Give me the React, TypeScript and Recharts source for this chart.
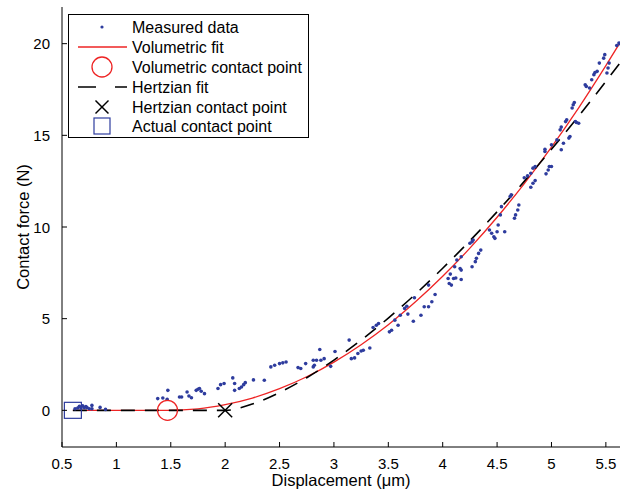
import React from 'react';
import { ComposedChart, Line, Scatter, XAxis, YAxis, Legend } from 'recharts';

// Measured data (displacement µm, contact force N)
const measuredX = [
  0.62, 0.645, 0.66, 0.675, 0.69, 0.705, 0.72, 0.73, 0.75, 0.775, 0.775, 0.85, 0.9,
  1.38, 1.427, 1.473, 1.467, 1.58, 1.6, 1.65, 1.667, 1.69, 1.734, 1.75, 1.764, 1.78, 1.81,
  1.934, 1.958, 1.99, 2.07, 2.087, 2.087, 2.13, 2.15, 2.17, 2.185, 2.26,
  2.36, 2.42, 2.455, 2.5, 2.53, 2.56, 2.67, 2.695, 2.74, 2.81, 2.82, 2.81, 2.84, 2.88, 2.87, 2.91, 2.97,
  3.01, 3.14, 3.16, 3.19, 3.22, 3.25, 3.27, 3.33, 3.36, 3.39, 3.41, 3.51, 3.53, 3.56, 3.59, 3.61,
  3.65, 3.67, 3.68, 3.73, 3.74, 3.8,
  3.83, 3.87, 3.9, 3.87, 3.93, 4.05, 4.07, 4.06, 4.08, 4.1, 4.12, 4.16, 4.17, 4.17, 4.11, 4.13, 4.17,
  4.25, 4.27, 4.28, 4.27, 4.3, 4.31, 4.33, 4.35, 4.43, 4.45, 4.47, 4.48, 4.5, 4.51, 4.53, 4.54, 4.57,
  4.62, 4.63, 4.66, 4.67, 4.69, 4.7,
  4.75, 4.78, 4.81, 4.83, 4.85, 4.81, 4.83, 4.85, 4.95, 4.97, 4.98, 5.0, 4.94, 4.94, 5.0, 5.05, 5.08,
  5.09, 5.13, 5.14, 5.09, 5.11, 5.16, 5.17, 5.19, 5.2, 5.21, 5.22, 5.23, 5.25, 5.31, 5.32, 5.35, 5.37,
  5.39, 5.4, 5.42, 5.44, 5.48, 5.49, 5.51, 5.52, 5.53, 5.6, 5.62, 5.63,
];
const measuredF = [
  0.09, 0.13, 0.22, 0.13, 0.25, 0.15, 0.2, 0.15, 0.09, 0.27, 0.09, 0.16, 0.05,
  0.64, 0.67, 1.09, 0.6, 0.73, 0.73, 1.0, 0.78, 0.69, 1.09, 1.15, 1.19, 1.04, 0.91,
  1.19, 1.4, 1.46, 1.77, 1.46, 1.09, 1.19, 1.27, 1.4, 1.51, 1.66,
  1.64, 2.37, 2.46, 2.55, 2.59, 2.64, 2.33, 2.28, 2.55, 2.73, 2.46, 2.37, 2.73, 2.73, 3.32, 2.82, 2.4,
  3.21, 3.83, 2.82, 2.86, 3.1, 3.24, 3.28, 3.4, 4.52, 4.64, 4.74, 4.28, 4.37, 4.92, 4.64, 5.19,
  5.56, 5.68, 5.25, 4.86, 6.14, 5.19,
  5.65, 5.65, 5.92, 6.83, 6.32, 7.19, 7.43, 6.92, 6.83, 7.19, 7.22, 7.74, 7.65, 7.14, 7.83, 8.2, 8.38,
  9.11, 9.2, 9.29, 7.83, 8.11, 8.29, 8.56, 8.74, 9.84, 9.66, 9.47, 9.38, 9.74, 10.11, 10.66, 11.11, 9.74,
  11.66, 11.75, 10.48, 10.66, 10.93, 11.2,
  12.69, 12.79, 12.93, 13.21, 13.3, 12.17, 12.39, 12.53, 12.9, 13.11, 13.3, 13.3, 14.12, 14.24, 14.48, 14.75, 15.3,
  15.45, 15.75, 15.85, 14.21, 14.57, 14.85, 14.94, 16.49, 16.67, 16.79, 15.75, 15.7, 15.66, 17.76, 17.67, 17.58, 18.03,
  18.31, 18.43, 18.49, 18.94, 19.21, 19.4, 18.4, 18.67, 18.94, 19.9, 20.04, 20.0,
];

// Volumetric fit (red)
const volX = [0.6, 1.0, 1.47, 1.75, 2.0, 2.25, 2.5, 2.75, 3.0, 3.25, 3.5, 3.75, 4.0, 4.25, 4.5, 4.75, 5.0, 5.25, 5.5, 5.63];
const volF = [0, 0, 0, 0.08, 0.31, 0.67, 1.18, 1.83, 2.63, 3.58, 4.67, 5.92, 7.31, 8.85, 10.53, 12.37, 14.36, 16.5, 18.8, 20.05];

// Hertzian fit (black dashed)
const hertzX = [0.6, 1.0, 1.5, 2.0, 2.25, 2.5, 2.75, 3.0, 3.25, 3.5, 3.75, 4.0, 4.25, 4.5, 4.75, 5.0, 5.25, 5.5, 5.63];
const hertzF = [0, 0, 0, 0, 0.34, 0.97, 1.78, 2.74, 3.83, 5.03, 6.34, 7.75, 9.25, 10.83, 12.49, 14.24, 16.05, 17.94, 18.95];

// Contact points
const volContactPoint = [{ x: 1.47, y: 0 }];
const hertzContactPoint = [{ x: 2.0, y: 0 }];
const actualContactPoint = [{ x: 0.6, y: 0 }];

const xTicks = [0.5, 1, 1.5, 2, 2.5, 3, 3.5, 4, 4.5, 5, 5.5];
const yTicks = [0, 5, 10, 15, 20];
const xDomain = [0.5, 5.63];
const yDomain = [-2, 22];

const legendLabels = [
  'Measured data',
  'Volumetric fit',
  'Volumetric contact point',
  'Hertzian fit',
  'Hertzian contact point',
  'Actual contact point',
];

const measured = measuredX.map((x, i) => ({ x, y: measuredF[i] }));
const volFit = volX.map((x, i) => ({ x, y: volF[i] }));
const hertzFit = hertzX.map((x, i) => ({ x, y: hertzF[i] }));

const FONT = '"Liberation Sans", Arial, Helvetica, sans-serif';
const BLUE = '#2E3C9E';
const RED = '#EE2424';

const BottomTick = (p: any) => (
  <g>
    <line x1={p.x} x2={p.x} y1={p.y} y2={p.y - 5} stroke="#000" strokeWidth={1} />
    <text x={p.x} y={p.y + 16} textAnchor="middle" dominantBaseline="central" fontSize={15} fontFamily={FONT} fill="#000">
      {p.payload.value}
    </text>
  </g>
);
const TopTick = (p: any) => (
  <line x1={p.x} x2={p.x} y1={p.y} y2={p.y + 5} stroke="#000" strokeWidth={1} />
);
const LeftTick = (p: any) => (
  <g>
    <line x1={p.x} x2={p.x + 5} y1={p.y} y2={p.y} stroke="#000" strokeWidth={1} />
    <text x={p.x - 12} y={p.y} textAnchor="end" dominantBaseline="central" fontSize={15} fontFamily={FONT} fill="#000">
      {p.payload.value}
    </text>
  </g>
);
const RightTick = (p: any) => (
  <line x1={p.x} x2={p.x - 5} y1={p.y} y2={p.y} stroke="#000" strokeWidth={1} />
);

const DotShape = (p: any) => <circle cx={p.cx} cy={p.cy} r={1.8} fill={BLUE} />;
const CircleShape = (p: any) => <circle cx={p.cx} cy={p.cy} r={10} fill="none" stroke={RED} strokeWidth={1.3} />;
const CrossShape = (p: any) => (
  <g stroke="#000" strokeWidth={1.5}>
    <line x1={p.cx - 7} y1={p.cy - 7} x2={p.cx + 7} y2={p.cy + 7} />
    <line x1={p.cx - 7} y1={p.cy + 7} x2={p.cx + 7} y2={p.cy - 7} />
  </g>
);
const SquareShape = (p: any) => (
  <rect x={p.cx - 8.5} y={p.cy - 8} width={17} height={16} fill="none" stroke={BLUE} strokeWidth={1.2} />
);

const LegendBox = () => {
  const rowY = [13, 33, 53, 73, 93, 112];
  const sx = 34;
  return (
    <svg width={241} height={124} style={{ display: 'block' }}>
      <rect x={0.5} y={0.5} width={240} height={123} fill="#fff" stroke="#000" strokeWidth={1} />
      <circle cx={sx} cy={rowY[0]} r={1.6} fill={BLUE} />
      <line x1={10} x2={59} y1={rowY[1]} y2={rowY[1]} stroke={RED} strokeWidth={1.3} />
      <circle cx={sx} cy={rowY[2]} r={10} fill="none" stroke={RED} strokeWidth={1.3} />
      <line x1={10} x2={59} y1={rowY[3]} y2={rowY[3]} stroke="#000" strokeWidth={1.6} strokeDasharray="18 19" />
      <g stroke="#000" strokeWidth={1.5}>
        <line x1={sx - 6.5} y1={rowY[4] - 6.5} x2={sx + 6.5} y2={rowY[4] + 6.5} />
        <line x1={sx - 6.5} y1={rowY[4] + 6.5} x2={sx + 6.5} y2={rowY[4] - 6.5} />
      </g>
      <rect x={sx - 8} y={rowY[5] - 8} width={16} height={16} fill="none" stroke={BLUE} strokeWidth={1.2} />
      {legendLabels.map((t, i) => (
        <text key={t} x={64} y={rowY[i]} dominantBaseline="central" fontSize={16} fontFamily={FONT} fill="#000">
          {t}
        </text>
      ))}
    </svg>
  );
};

export default function App() {
  return (
    <div style={{ position: 'absolute', left: 0, top: 0, background: '#fff' }}>
      <ComposedChart width={628} height={489} margin={{ top: 7, right: 8, bottom: 0, left: 0 }}>
        <XAxis
          xAxisId="b"
          dataKey="x"
          type="number"
          domain={xDomain}
          allowDataOverflow
          ticks={xTicks}
          interval={0}
          height={42}
          tickSize={0}
          tickMargin={0}
          tickLine={false}
          tick={BottomTick}
          axisLine={{ stroke: '#000', strokeWidth: 1 }}
          label={{
            content: (props: any) => {
              const vb = props.viewBox;
              return (
                <text x={vb.x + vb.width / 2} y={vb.y + 33} textAnchor="middle" dominantBaseline="central" fontSize={16.5} fontFamily={FONT} fill="#000">
                  Displacement (μm)
                </text>
              );
            },
          }}
        />
        <XAxis
          xAxisId="t"
          orientation="top"
          dataKey="x"
          type="number"
          domain={xDomain}
          allowDataOverflow
          ticks={xTicks}
          interval={0}
          height={0}
          tickSize={0}
          tickMargin={0}
          tickLine={false}
          tick={TopTick}
          axisLine={{ stroke: '#000', strokeWidth: 1 }}
        />
        <YAxis
          yAxisId="l"
          dataKey="y"
          type="number"
          domain={yDomain}
          allowDataOverflow
          ticks={yTicks}
          interval={0}
          width={62}
          tickSize={0}
          tickMargin={0}
          tickLine={false}
          tick={LeftTick}
          axisLine={{ stroke: '#000', strokeWidth: 1 }}
          label={{
            content: (props: any) => {
              const vb = props.viewBox;
              const cx = 23;
              const cy = vb.y + vb.height / 2;
              return (
                <text x={cx} y={cy} transform={`rotate(-90 ${cx} ${cy})`} textAnchor="middle" dominantBaseline="central" fontSize={16.5} fontFamily={FONT} fill="#000">
                  Contact force (N)
                </text>
              );
            },
          }}
        />
        <YAxis
          yAxisId="r"
          orientation="right"
          dataKey="y"
          type="number"
          domain={yDomain}
          allowDataOverflow
          ticks={yTicks}
          interval={0}
          width={0}
          tickSize={0}
          tickMargin={0}
          tickLine={false}
          tick={RightTick}
          axisLine={{ stroke: '#000', strokeWidth: 1 }}
        />
        <Legend
          layout="vertical"
          verticalAlign="middle"
          align="center"
          width={241}
          height={124}
          wrapperStyle={{ left: 68, top: 14, width: 241, height: 124 }}
          content={() => <LegendBox />}
        />
        <Scatter
          xAxisId="b"
          yAxisId="l"
          data={measured}
          dataKey="y"
          shape={DotShape}
          isAnimationActive={false}
        />
        <Line
          xAxisId="b"
          yAxisId="l"
          data={volFit}
          dataKey="y"
          type="monotone"
          stroke={RED}
          strokeWidth={1.3}
          dot={false}
          activeDot={false}
          isAnimationActive={false}
        />
        <Line
          xAxisId="b"
          yAxisId="l"
          data={hertzFit}
          dataKey="y"
          type="monotone"
          stroke="#000"
          strokeWidth={1.6}
          strokeDasharray="14 10"
          dot={false}
          activeDot={false}
          isAnimationActive={false}
        />
        <Scatter xAxisId="b" yAxisId="l" data={volContactPoint} dataKey="y" shape={CircleShape} isAnimationActive={false} />
        <Scatter xAxisId="b" yAxisId="l" data={hertzContactPoint} dataKey="y" shape={CrossShape} isAnimationActive={false} />
        <Scatter xAxisId="b" yAxisId="l" data={actualContactPoint} dataKey="y" shape={SquareShape} isAnimationActive={false} />
      </ComposedChart>
    </div>
  );
}
